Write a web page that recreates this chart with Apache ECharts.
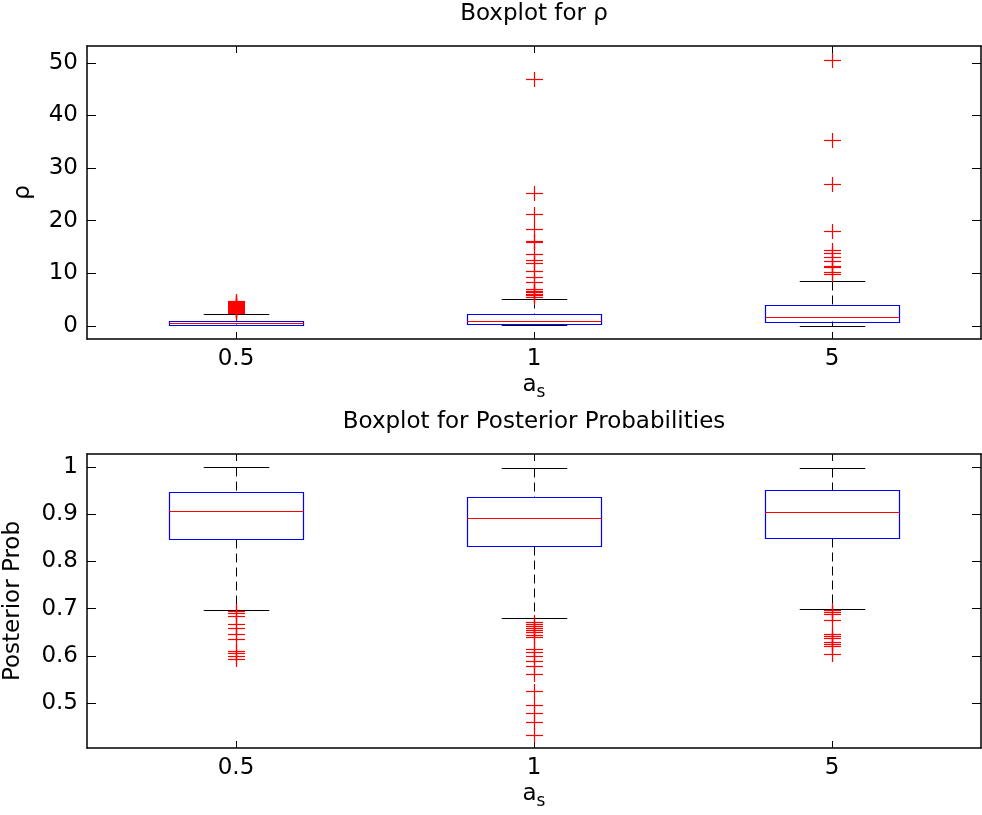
<!DOCTYPE html>
<html>
<head>
<meta charset="utf-8">
<script src="https://cdn.jsdelivr.net/npm/echarts@6/dist/echarts.min.js"></script>
<style>
  html, body { margin: 0; padding: 0; background: #fff; }
  #chart { width: 982px; height: 815px; }
</style>
</head>
<body>
<div id="chart"></div>
<script>
var categories = ['0.5', '1', '5'];
var rhoTicks = [0, 10, 20, 30, 40, 50];
var probTicks = [0.5, 0.6, 0.7, 0.8, 0.9, 1];

// box stats: [lower whisker, q1, median, q3, upper whisker]
var rhoBox = [
    [0.07, 0.27, 0.57, 0.95, 2.28],
    [0.07, 0.38, 0.9, 2.23, 5.08],
    [0.0, 0.84, 1.66, 4.0, 8.5]
];
var rhoOut05 = [2.5, 2.7, 2.9, 3.0, 3.2, 3.3, 3.5, 3.7, 3.9, 4.1, 4.3, 4.5, 4.8];
var rhoOut1 = [5.5, 5.8, 6.1, 6.4, 6.7, 7.1, 8.26, 9.2, 10.4, 11.9, 12.6, 13.65, 16.0, 16.2, 18.35, 21.26, 25.3, 46.9];
var rhoOut5 = [9.8, 10.3, 11.2, 11.4, 12.4, 13.0, 13.8, 14.4, 18.1, 27.0, 35.4, 50.6];

var probBox = [
    [0.698, 0.847, 0.906, 0.946, 0.999],
    [0.679, 0.832, 0.892, 0.936, 0.997],
    [0.700, 0.849, 0.905, 0.950, 0.998]
];
var probOut05 = [0.695, 0.690, 0.685, 0.667, 0.658, 0.646, 0.636, 0.610, 0.605, 0.599, 0.593];
var probOut1 = [0.671, 0.667, 0.663, 0.658, 0.654, 0.650, 0.645, 0.640, 0.614, 0.608, 0.600, 0.590, 0.578, 0.561, 0.526, 0.495, 0.480, 0.460, 0.433];
var probOut5 = [0.697, 0.692, 0.688, 0.675, 0.646, 0.642, 0.637, 0.629, 0.625, 0.621, 0.603];

var FONT = 'DejaVu Sans';

function px(v) { return Math.round(v) + 0.5; }

function renderBox(params, api) {
    var i = api.value(0);
    var lo = api.coord([i, api.value(1)]);
    var q1 = api.coord([i, api.value(2)]);
    var md = api.coord([i, api.value(3)]);
    var q3 = api.coord([i, api.value(4)]);
    var hi = api.coord([i, api.value(5)]);
    var band = api.size([1, 0])[0];
    var bw = band * 0.45, cw = band * 0.22;
    var x = px(lo[0]);
    var dash = { stroke: '#000', lineWidth: 1, lineDash: [9, 5] };
    var solid = { stroke: '#000', lineWidth: 1 };
    return {
        type: 'group',
        children: [
            { type: 'line', shape: { x1: x, y1: px(hi[1]), x2: x, y2: px(q3[1]) }, style: dash },
            { type: 'line', shape: { x1: x, y1: px(q1[1]), x2: x, y2: px(lo[1]) }, style: dash },
            { type: 'line', shape: { x1: x - cw / 2, y1: px(hi[1]), x2: x + cw / 2, y2: px(hi[1]) }, style: solid },
            { type: 'line', shape: { x1: x - cw / 2, y1: px(lo[1]), x2: x + cw / 2, y2: px(lo[1]) }, style: solid },
            { type: 'rect', shape: { x: px(x - bw / 2), y: px(q3[1]), width: Math.round(bw), height: Math.round(q1[1] - q3[1]) },
              style: { fill: 'none', stroke: '#0000ff', lineWidth: 1.2 } },
            { type: 'line', shape: { x1: x - bw / 2, y1: px(md[1]), x2: x + bw / 2, y2: px(md[1]) },
              style: { stroke: '#ff0000', lineWidth: 1 } }
        ]
    };
}

function renderPlus(params, api) {
    var p = api.coord([api.value(0), api.value(1)]);
    var x = px(p[0]), y = px(p[1]);
    var st = { stroke: '#ff0000', lineWidth: 1.2 };
    return {
        type: 'group',
        children: [
            { type: 'line', shape: { x1: x - 8.5, y1: y, x2: x + 8.5, y2: y }, style: st },
            { type: 'line', shape: { x1: x, y1: y - 7.5, x2: x, y2: y + 7.5 }, style: st }
        ]
    };
}

function boxData(stats) {
    return stats.map(function (s, i) { return [i].concat(s); });
}
function outData(lists) {
    var out = [];
    lists.forEach(function (l, i) {
        l.forEach(function (v) { out.push([i, v]); });
    });
    return out;
}

var axisLine = { show: true, onZero: false, lineStyle: { color: '#000', width: 1.5 } };

function xAx(grid, pos, showLabel) {
    return {
        type: 'category', gridIndex: grid, position: pos, data: categories,
        boundaryGap: true,
        axisLine: axisLine,
        axisTick: { show: true, inside: true, alignWithLabel: true, length: 7, lineStyle: { color: '#000' } },
        axisLabel: { show: showLabel, color: '#000', fontFamily: FONT, fontSize: 23, margin: 9 },
        splitLine: { show: false },
        name: showLabel ? '{a|a}{s|s}' : '',
        nameLocation: 'middle',
        nameGap: 31,
        nameTextStyle: {
            color: '#000', fontFamily: FONT,
            rich: {
                a: { fontSize: 23, fontFamily: FONT, color: '#000' },
                s: { fontSize: 17, fontFamily: FONT, color: '#000', padding: [14, 0, 0, 0] }
            }
        }
    };
}

function yAx(grid, pos, min, max, ticks, showLabel, name, gap) {
    return {
        type: 'value', gridIndex: grid, position: pos, min: min, max: max,
        axisLine: axisLine,
        axisTick: { show: true, inside: true, length: 9, customValues: ticks, lineStyle: { color: '#000' } },
        axisLabel: { show: showLabel, color: '#000', fontFamily: FONT, fontSize: 23, margin: 9,
                     customValues: ticks },
        splitLine: { show: false },
        name: name || '',
        nameLocation: 'middle',
        nameGap: gap || 0,
        nameTextStyle: { color: '#000', fontFamily: FONT, fontSize: 23 }
    };
}

var chart = echarts.init(document.getElementById('chart'));
chart.setOption({
    animation: false,
    backgroundColor: '#fff',
    title: [
        { text: 'Boxplot for ρ', left: 534, top: 3, textAlign: 'center', padding: 0,
          textStyle: { fontFamily: FONT, fontSize: 23, fontWeight: 'normal', color: '#000' } },
        { text: 'Boxplot for Posterior Probabilities', left: 534, top: 411, textAlign: 'center', padding: 0,
          textStyle: { fontFamily: FONT, fontSize: 23, fontWeight: 'normal', color: '#000' } }
    ],
    grid: [
        { left: 87, top: 46, width: 894, height: 293, outerBoundsMode: 'none', containLabel: false },
        { left: 87, top: 454, width: 894, height: 294, outerBoundsMode: 'none', containLabel: false }
    ],
    xAxis: [
        xAx(0, 'bottom', true),
        xAx(0, 'top', false),
        xAx(1, 'bottom', true),
        xAx(1, 'top', false)
    ],
    yAxis: [
        yAx(0, 'left', -2.5, 53.2, rhoTicks, true, 'ρ', 52),
        yAx(0, 'right', -2.5, 53.2, rhoTicks, false),
        yAx(1, 'left', 0.405, 1.027, probTicks, true, 'Posterior Prob', 62),
        yAx(1, 'right', 0.405, 1.027, probTicks, false)
    ],
    series: [
        { type: 'custom', xAxisIndex: 0, yAxisIndex: 0, renderItem: renderBox,
          encode: { x: 0, y: [1, 2, 3, 4, 5] }, data: boxData(rhoBox), z: 2 },
        { type: 'custom', xAxisIndex: 0, yAxisIndex: 0, renderItem: renderPlus,
          encode: { x: 0, y: 1 }, data: outData([rhoOut05, rhoOut1, rhoOut5]), z: 3 },
        { type: 'custom', xAxisIndex: 2, yAxisIndex: 2, renderItem: renderBox,
          encode: { x: 0, y: [1, 2, 3, 4, 5] }, data: boxData(probBox), z: 2 },
        { type: 'custom', xAxisIndex: 2, yAxisIndex: 2, renderItem: renderPlus,
          encode: { x: 0, y: 1 }, data: outData([probOut05, probOut1, probOut5]), z: 3 }
    ]
});
window.onresize = function () { chart.resize(); };
</script>
</body>
</html>
